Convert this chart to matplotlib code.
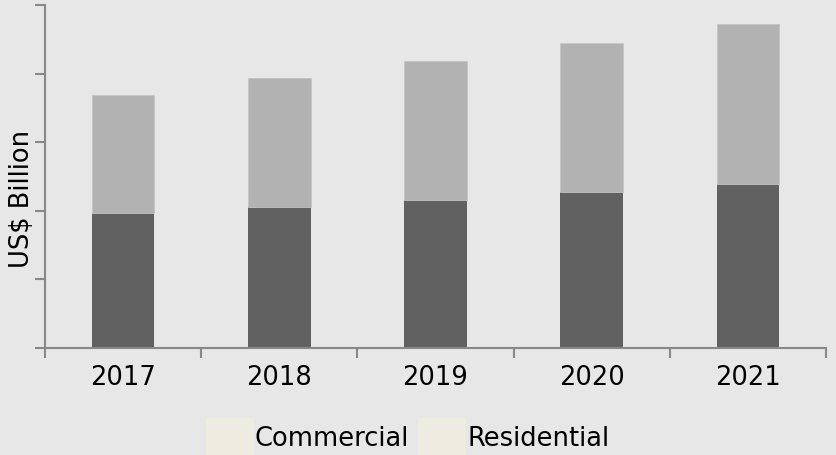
import matplotlib.pyplot as plt
import numpy as np
from matplotlib.patches import Patch

years = ["2017", "2018", "2019", "2020", "2021"]
commercial = [1.97, 2.06, 2.16, 2.27, 2.39]
residential = [1.72, 1.88, 2.02, 2.18, 2.33]

dark = "#616161"
light = "#b2b2b2"
spine_color = "#888888"
legend_patch = "#eeece1"

fig = plt.figure(figsize=(8.37, 4.55), dpi=100)
fig.patch.set_facecolor("#e7e7e7")
ax = fig.add_axes([45 / 837, 107 / 455, 781 / 837, 343 / 455])
ax.set_facecolor("none")

x = np.arange(len(years))
ax.bar(x, commercial, width=0.4, color=dark, zorder=2)
ax.bar(x, residential, width=0.4, bottom=commercial, color=light,
       edgecolor="#c4c4c4", linewidth=0.6, zorder=2)

ax.set_xlim(-0.5, len(years) - 0.5)
ax.set_ylim(0, 5)
ax.set_yticks(np.arange(0, 6, 1))
ax.set_yticklabels([])
ax.set_xticks(np.arange(-0.5, len(years), 1))
ax.set_xticklabels([])
ax.set_xticks(x, minor=True)
ax.set_xticklabels(years, minor=True, fontsize=18.5)
ax.tick_params(axis="x", which="minor", length=0, pad=12)
ax.tick_params(axis="both", which="major", length=7, width=1.5, color=spine_color)

for side in ["top", "right"]:
    ax.spines[side].set_visible(False)
for side in ["left", "bottom"]:
    ax.spines[side].set_color(spine_color)
    ax.spines[side].set_linewidth(1.5)

ax.set_ylabel("US$ Billion", fontsize=18.5, va="center")
ax.yaxis.set_label_coords(-23 / 781, 0.434)

handles = [Patch(facecolor=legend_patch, edgecolor="none", label="Commercial"),
           Patch(facecolor=legend_patch, edgecolor="none", label="Residential")]
fig.legend(handles=handles, loc="upper center", bbox_to_anchor=(0.487, 37 / 455),
           ncol=2, frameon=False, fontsize=18.5, handlelength=1.85,
           handleheight=2.0, handletextpad=0.05, columnspacing=0.35,
           borderaxespad=0, borderpad=0)

fig.savefig("out.png", dpi=100, facecolor=fig.get_facecolor())
